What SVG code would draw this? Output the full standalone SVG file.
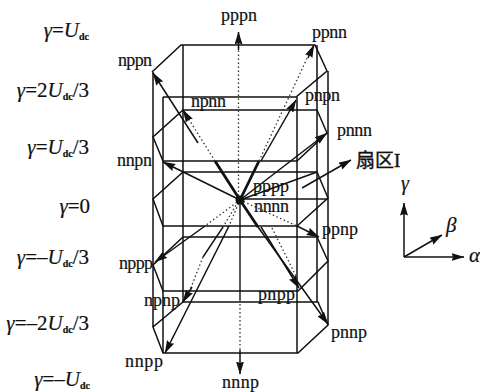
<svg xmlns="http://www.w3.org/2000/svg" width="480" height="392" viewBox="0 0 480 392">
<style>
text{font-family:"Liberation Serif","Noto Sans CJK SC",serif;font-size:18px;fill:#111;stroke:#111;stroke-width:.2}
.eq{font-style:italic;text-anchor:end;font-size:21px}
.up{font-style:normal}
.sub{font-size:10px;font-weight:bold;font-style:normal}
.fr{fill:none;stroke:#111;stroke-width:1.5}
.ar{fill:none;stroke:#111;stroke-width:1.5;marker-end:url(#a)}
.th{fill:none;stroke:#111;stroke-width:2.8}
.s{fill:none;stroke:#111;stroke-width:1.4}
.d{fill:none;stroke:#333;stroke-width:1.3;stroke-dasharray:1.5 2.5}
</style>
<defs>
<marker id="a" viewBox="0 0 13 8" refX="12.500" refY="4" markerUnits="userSpaceOnUse" markerWidth="13" markerHeight="8" orient="auto"><path d="M0 0L13 4L0 8L1.500 4Z" fill="#111"/></marker>
</defs>
<g id="connectors">
<g id="frame">
<path class="fr" d="M152 72L181 45H315L327 71L296 97H163"/>
<path class="fr" d="M183 110H317L327 133L297 161H163L153 137Z"/>
<path class="fr" d="M183 172H317L328 198L297 226H163L153 199Z"/>
<path class="fr" d="M240 199H328"/>
<path class="fr" d="M183 237H317L328 261L298 291H163L153 265Z"/>
<path class="fr" d="M183 302H318L328 325L298 353H163L153 327Z"/>
<path class="fr" d="M153 72V327M163 97V353M183 45V302M297 97V353M317 45V302M328 71V325"/>
</g>
<g id="vectors">
<path class="d" d="M238.500 200V47"/>
<path class="ar" d="M238.500 50V32"/>
<path class="s" d="M240 200V300"/>
<path class="d" d="M240 300V350"/>
<path class="ar" d="M240 350V374"/>
<path class="th" d="M240 200L215 161M240 200L259 161"/>
<path class="d" d="M215 161L188 118M259 161L310 52"/>
<path class="ar" d="M198 143L153 73"/>
<path class="ar" d="M189 120L183 110"/>
<path class="ar" d="M261 161L296 100"/>
<path class="ar" d="M308 58L314 45"/>
<path class="ar" d="M240 200L163 162"/>
<path class="ar" d="M240 200L327 133"/>
<path class="s" d="M240 200L317 172"/>
<path class="ar" d="M302 188L351 160"/>
<path class="d" d="M240 200L297 226"/>
<path class="ar" d="M297 226L319 237"/>
<path class="d" d="M240 200L205 226"/>
<path class="ar" d="M205 226L155 262"/>
<path class="d" d="M240 200L229 226"/>
<path class="ar" d="M229 226L165 353"/>
<path class="d" d="M238 202L223 227"/>
<path class="s" d="M223 227L203 257"/>
<path class="d" d="M203 257L190 290"/>
<path class="ar" d="M192 287L183 302"/>
<path class="th" d="M240 200L258 227"/>
<path class="ar" d="M258 227L328 324"/>
<path class="ar" d="M261 227L299 288"/>
<path class="d" d="M272 228L296 276"/>
<circle cx="240" cy="200" r="4.500" fill="#111"/>
</g>
<g id="axes">
<path class="ar" d="M404 257V203"/>
<path class="ar" d="M404 257H464"/>
<path class="ar" d="M404 257L442 235"/>
</g>
</g>
<g id="n-pppn"><text x="221" y="21" textLength="36">pppn</text></g>
<g id="n-ppnn"><text x="312" y="38" textLength="35">ppnn</text></g>
<g id="n-nppn"><text x="118" y="66" textLength="34">nppn</text></g>
<g id="n-npnn"><text x="191" y="107" textLength="35">npnn</text></g>
<g id="n-pnpn"><text x="305" y="101" textLength="35">pnpn</text></g>
<g id="n-pnnn"><text x="337" y="136" textLength="35">pnnn</text></g>
<g id="n-nnpn"><text x="117" y="166" textLength="35">nnpn</text></g>
<g id="n-pppp"><text x="253" y="192" textLength="36">pppp</text></g>
<g id="n-nnnn"><text x="254" y="212" textLength="35">nnnn</text></g>
<g id="n-ppnp"><text x="322" y="235" textLength="36">ppnp</text></g>
<g id="n-nppp"><text x="119" y="269" textLength="34">nppp</text></g>
<g id="n-npnp"><text x="144" y="306" textLength="36">npnp</text></g>
<g id="n-pnpp"><text x="258" y="300" textLength="37">pnpp</text></g>
<g id="n-pnnp"><text x="331" y="338" textLength="36">pnnp</text></g>
<g id="n-nnpp"><text x="125" y="367" textLength="38">nnpp</text></g>
<g id="n-nnnp"><text x="222" y="388" textLength="37">nnnp</text></g>
<g id="levels">
<text class="eq" x="89" y="37">γ<tspan class="up">=</tspan>U<tspan class="sub" dy="3">dc</tspan></text>
<text class="eq" x="89" y="97">γ<tspan class="up">=2</tspan>U<tspan class="sub" dy="3">dc</tspan><tspan class="up" dy="-3">/3</tspan></text>
<text class="eq" x="89" y="154">γ<tspan class="up">=</tspan>U<tspan class="sub" dy="3">dc</tspan><tspan class="up" dy="-3">/3</tspan></text>
<text class="eq" x="90" y="213">γ<tspan class="up">=0</tspan></text>
<text class="eq" x="89" y="264">γ<tspan class="up">=–</tspan>U<tspan class="sub" dy="3">dc</tspan><tspan class="up" dy="-3">/3</tspan></text>
<text class="eq" x="89" y="330">γ<tspan class="up">=–2</tspan>U<tspan class="sub" dy="3">dc</tspan><tspan class="up" dy="-3">/3</tspan></text>
<text class="eq" x="90" y="386">γ<tspan class="up">=–</tspan>U<tspan class="sub" dy="3">dc</tspan></text>
</g>
<g id="sector"><text x="356" y="167" style="font-size:19px;stroke-width:.4">扇区I</text></g>
<g id="axis-labels">
<text x="401" y="190" font-style="italic" style="font-size:20px">γ</text>
<text x="446" y="232" font-style="italic" style="font-size:21px">β</text>
<text x="469" y="262" font-style="italic" style="font-size:21px">α</text>
</g>
</svg>
